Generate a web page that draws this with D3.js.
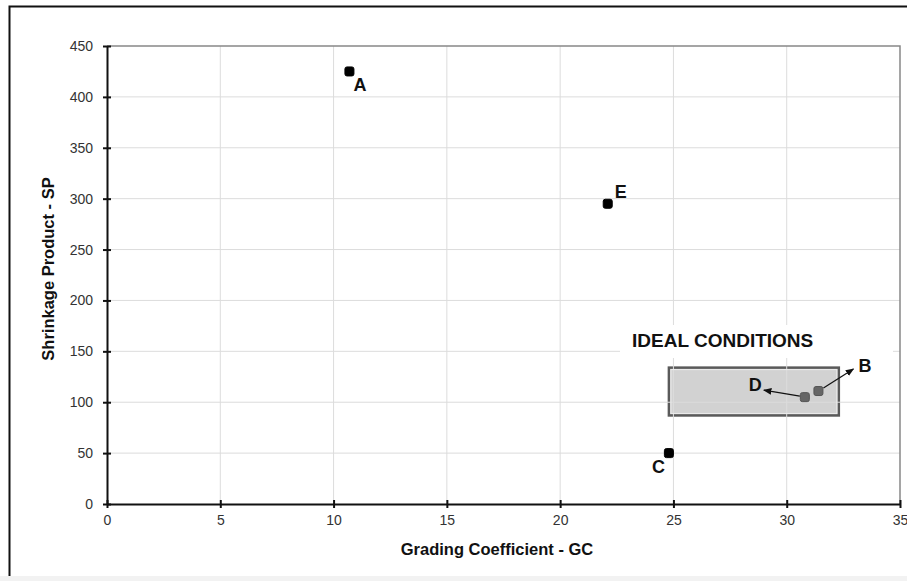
<!DOCTYPE html>
<html>
<head>
<meta charset="utf-8">
<script src="https://cdn.jsdelivr.net/npm/d3@7"></script>
<style>
  body { margin: 0; background: #fff; }
  svg { display: block; font-family: "Liberation Sans", Arial, sans-serif; }
</style>
</head>
<body>
<script>
// mixes
var mixNames = ["A", "B", "C", "D", "E"];
var gcValues = [10.7, 31.4, 24.8, 30.8, 22.1];
var spValues = [425, 111, 50, 105, 295];
var ideal = ["D", "B"];           // points drawn grey, inside the box
var idealGC = [24.8, 32.3];
var idealSP = [87, 134];
var xTicks = [0, 5, 10, 15, 20, 25, 30, 35];
var yTicks = [0, 50, 100, 150, 200, 250, 300, 350, 400, 450];

var svg = d3.select("body").append("svg")
    .attr("width", 907)
    .attr("height", 581);

// outer frame + grey strip at bottom
svg.append("rect").attr("x", 0).attr("y", 576).attr("width", 907).attr("height", 5).attr("fill", "#f2f2f2");
svg.append("path").attr("d", "M907,6.5H9.5V576").attr("fill", "none").attr("stroke", "#111").attr("stroke-width", 2);

var x = d3.scaleLinear().domain([0, 35]).range([107, 900]);
var y = d3.scaleLinear().domain([0, 450]).range([504, 46]);

// ideal conditions box (under the grid)
var bx = x(idealGC[0]), bw = x(idealGC[1]) - x(idealGC[0]);
var by = y(idealSP[1]), bh = y(idealSP[0]) - y(idealSP[1]);
svg.append("rect").attr("x", bx).attr("y", by).attr("width", bw).attr("height", bh)
    .attr("fill", "#d2d2d2").attr("stroke", "#5a5a5a").attr("stroke-width", 2.5);

// grid
svg.append("g").selectAll("line").data(xTicks.slice(1, -1)).enter().append("line")
    .attr("x1", d => x(d)).attr("x2", d => x(d)).attr("y1", y(450)).attr("y2", y(0))
    .attr("stroke", "#dcdcdc").attr("stroke-width", 1);
svg.append("g").selectAll("line").data(yTicks.slice(1, -1)).enter().append("line")
    .attr("x1", x(0)).attr("x2", x(35)).attr("y1", d => y(d)).attr("y2", d => y(d))
    .attr("stroke", "#dcdcdc").attr("stroke-width", 1);

// inner light edge of the box
svg.append("rect").attr("x", bx + 2).attr("y", by + 2).attr("width", bw - 4).attr("height", bh - 4)
    .attr("fill", "none").attr("stroke", "#ececec").attr("stroke-width", 1);

// top/right plot border
svg.append("path").attr("d", "M" + x(0) + "," + y(450) + "H" + x(35) + "V" + y(0))
    .attr("fill", "none").attr("stroke", "#888").attr("stroke-width", 1.5);

// white label patch + text
svg.append("rect").attr("x", 620).attr("y", 325).attr("width", 273).attr("height", 33).attr("fill", "#fff");
svg.append("text").attr("x", 632).attr("y", 347).attr("font-size", 19).attr("font-weight", "bold")
    .attr("fill", "#111").text("IDEAL CONDITIONS");

// axes
var xAxis = svg.append("g").attr("transform", "translate(0," + y(0) + ")")
    .call(d3.axisBottom(x).tickValues(xTicks).tickSizeOuter(0).tickSizeInner(4).tickPadding(7));
var yAxis = svg.append("g").attr("transform", "translate(" + x(0) + ",0)")
    .call(d3.axisLeft(y).tickValues(yTicks).tickSizeOuter(0).tickSizeInner(4).tickPadding(10));
[xAxis, yAxis].forEach(function(g) {
    g.select(".domain").attr("stroke", "#111").attr("stroke-width", 2);
    g.selectAll(".tick line").attr("stroke", "#111").attr("stroke-width", 2);
    g.selectAll(".tick text").attr("font-size", 14).attr("fill", "#333")
        .attr("font-family", "Liberation Sans, Arial, sans-serif");
});
xAxis.selectAll(".tick line").attr("y1", -4);
yAxis.selectAll(".tick line").attr("x1", 4);

// axis titles
svg.append("text").attr("x", 497).attr("y", 555).attr("text-anchor", "middle")
    .attr("font-size", 16.5).attr("font-weight", "bold").attr("fill", "#111").text("Grading Coefficient - GC");
svg.append("text").attr("transform", "translate(54,269) rotate(-90)").attr("text-anchor", "middle")
    .attr("font-size", 16.5).attr("font-weight", "bold").attr("fill", "#111").text("Shrinkage Product - SP");

// arrows for B and D
svg.append("defs").append("marker").attr("id", "arr")
    .attr("viewBox", "0 0 10 10").attr("refX", 9).attr("refY", 5)
    .attr("markerWidth", 7).attr("markerHeight", 7).attr("orient", "auto")
    .append("path").attr("d", "M0,1L10,5L0,9z").attr("fill", "#111");

var points = mixNames.map((n, i) => ({ name: n, gc: gcValues[i], sp: spValues[i] }));
// label placement (pixel offsets from the point)
var labelOff = { A: [4, 20], B: [40, -19], C: [-17, 20], D: [-56, -6], E: [7, -6] };
var arrowOff = { B: [[5, -3], [35, -22]], D: [[-5, -1], [-41, -7]] };

svg.append("g").selectAll("line").data(points.filter(d => arrowOff[d.name])).enter().append("line")
    .attr("x1", d => x(d.gc) + arrowOff[d.name][0][0]).attr("y1", d => y(d.sp) + arrowOff[d.name][0][1])
    .attr("x2", d => x(d.gc) + arrowOff[d.name][1][0]).attr("y2", d => y(d.sp) + arrowOff[d.name][1][1])
    .attr("stroke", "#111").attr("stroke-width", 1.2).attr("marker-end", "url(#arr)");

svg.append("g").selectAll("rect").data(points).enter().append("rect")
    .attr("x", d => x(d.gc) - 4.5).attr("y", d => y(d.sp) - 4.5)
    .attr("width", 9).attr("height", 9).attr("rx", 2)
    .attr("fill", d => ideal.includes(d.name) ? "#666" : "#000")
    .attr("stroke", d => ideal.includes(d.name) ? "#555" : "#000");

svg.append("g").selectAll("text").data(points).enter().append("text")
    .attr("x", d => x(d.gc) + labelOff[d.name][0]).attr("y", d => y(d.sp) + labelOff[d.name][1])
    .attr("font-size", 18).attr("font-weight", "bold").attr("fill", "#111")
    .text(d => d.name);
</script>
</body>
</html>
